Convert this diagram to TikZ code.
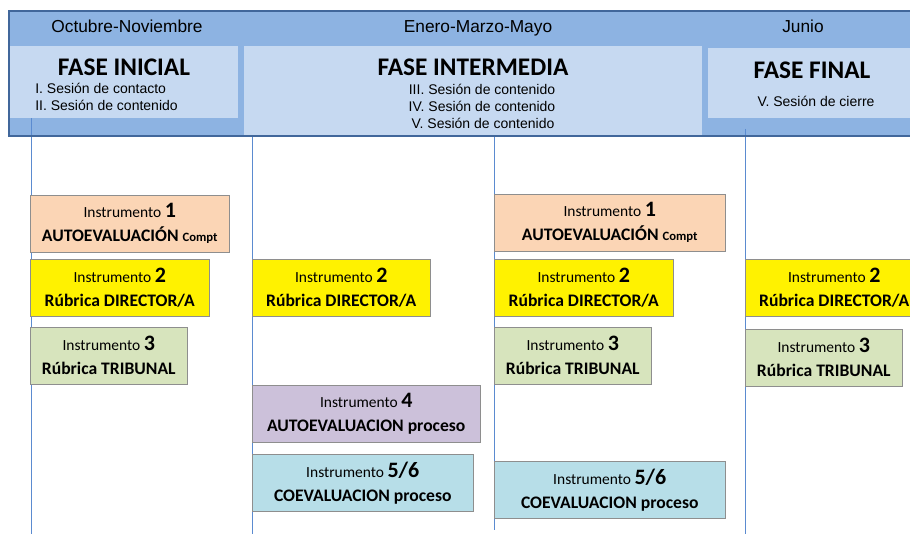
\documentclass[tikz,border=0pt]{standalone}
\usepackage{fontspec}
\setmainfont{Carlito}
\newfontfamily\arialfont{Liberation Sans}
\definecolor{band}{HTML}{8DB3E2}
\definecolor{bandlight}{HTML}{C6D9F1}
\definecolor{bandedge}{HTML}{41679B}
\definecolor{lineblue}{HTML}{5B8BD0}
\definecolor{boxgray}{HTML}{8E8E8E}
\definecolor{peach}{HTML}{FBD5B5}
\definecolor{sage}{HTML}{D7E4BD}
\definecolor{lilac}{HTML}{CCC1DA}
\definecolor{aqua}{HTML}{B7DEE8}
\newcommand{\instrtext}[2]{Instrumento {\fontsize{16.5}{18}\selectfont\bfseries #1}\\{\fontsize{13.2}{15}\selectfont\bfseries #2}}

\begin{document}
\begin{tikzpicture}[x=0.75pt, y=-0.75pt,
	instr/.style={draw=boxgray, anchor=north west, minimum height=42.75pt, inner sep=0pt, align=center, font=\fontsize{11.6}{18}\selectfont},
	month/.style={font=\arialfont\fontsize{13}{15}\selectfont, inner sep=0pt, anchor=base},
	fase/.style={font=\bfseries\fontsize{19}{22}\selectfont, inner sep=0pt},
	sesion/.style={font=\arialfont\fontsize{10.5}{12.5}\selectfont, inner sep=0pt, anchor=base},
	timeline/.style={draw=lineblue, line width=0.75pt}]
\useasboundingbox (0,0) rectangle (910,534);
\clip (0,0) rectangle (910,534);
\fill[band] (9,11) rectangle (930,136);
\foreach \x/\t/\b [count=\i] in {31/118/534, 252/135/534, 494/136/530, 745/129/534}{
	\coordinate (t\i) at (\x,\t);
	\coordinate (b\i) at (\x,\b);
	\draw [timeline] (t\i)--(b\i);
}
\fill[bandlight] (10,46) rectangle (238,118);
\fill[bandlight] (244,46) rectangle (702,135);
\fill[bandlight] (708,48) rectangle (930,118);
\draw[bandedge, line width=1.5pt] (930,11) -- (9,11) -- (9,136) -- (930,136);
	\node [month] (m1) at (127,33) {Octubre-Noviembre};
	\node [month] (m2) at (478,33) {Enero-Marzo-Mayo};
	\node [month] (m3) at (803,33) {Junio};
	\node [fase] (f1) at (124,67) {FASE INICIAL};
	\node [fase] (f2) at (473,67) {FASE INTERMEDIA};
	\node [fase] (f3) at (812,70) {FASE FINAL};
	\node [sesion, anchor=base west] (s1) at (35,94) {I. Sesión de contacto};
	\node [sesion, anchor=base west] (s2) at (35,111) {II. Sesión de contenido};
	\node [sesion] (s3) at (482,95) {III. Sesión de contenido};
	\node [sesion] (s4) at (482,112) {IV. Sesión de contenido};
	\node [sesion] (s5) at (483,129) {V. Sesión de contenido};
	\node [sesion] (s6) at (816,107) {V. Sesión de cierre};
	\node [instr, fill=peach, minimum width=149.25pt] (i1a) at (30,195) {\instrtext{1}{AUTOEVALUACIÓN {\fontsize{9.5}{11}\selectfont Compt}}};
	\node [instr, fill=yellow, minimum width=134.25pt] (i2a) at (30,259) {\instrtext{2}{Rúbrica DIRECTOR/A}};
	\node [instr, fill=sage, minimum width=117.75pt] (i3a) at (30,327) {\instrtext{3}{Rúbrica TRIBUNAL}};
	\node [instr, fill=yellow, minimum width=133.5pt] (i2b) at (252,259) {\instrtext{2}{Rúbrica DIRECTOR/A}};
	\node [instr, fill=lilac, minimum width=171pt] (i4b) at (252,385) {\instrtext{4}{AUTOEVALUACION proceso}};
	\node [instr, fill=aqua, minimum width=165.75pt] (i56b) at (252,454) {\instrtext{5/6}{COEVALUACION proceso}};
	\node [instr, fill=peach, minimum width=173.25pt] (i1c) at (494,194) {\instrtext{1}{AUTOEVALUACIÓN {\fontsize{9.5}{11}\selectfont Compt}}};
	\node [instr, fill=yellow, minimum width=134.25pt] (i2c) at (494,259) {\instrtext{2}{Rúbrica DIRECTOR/A}};
	\node [instr, fill=sage, minimum width=117.75pt] (i3c) at (494,327) {\instrtext{3}{Rúbrica TRIBUNAL}};
	\node [instr, fill=aqua, minimum width=173.25pt] (i56c) at (494,461) {\instrtext{5/6}{COEVALUACION proceso}};
	\node [instr, fill=yellow, minimum width=133.5pt] (i2d) at (745,259) {\instrtext{2}{Rúbrica DIRECTOR/A}};
	\node [instr, fill=sage, minimum width=117.75pt] (i3d) at (745,329) {\instrtext{3}{Rúbrica TRIBUNAL}};
\end{tikzpicture}
\end{document}
